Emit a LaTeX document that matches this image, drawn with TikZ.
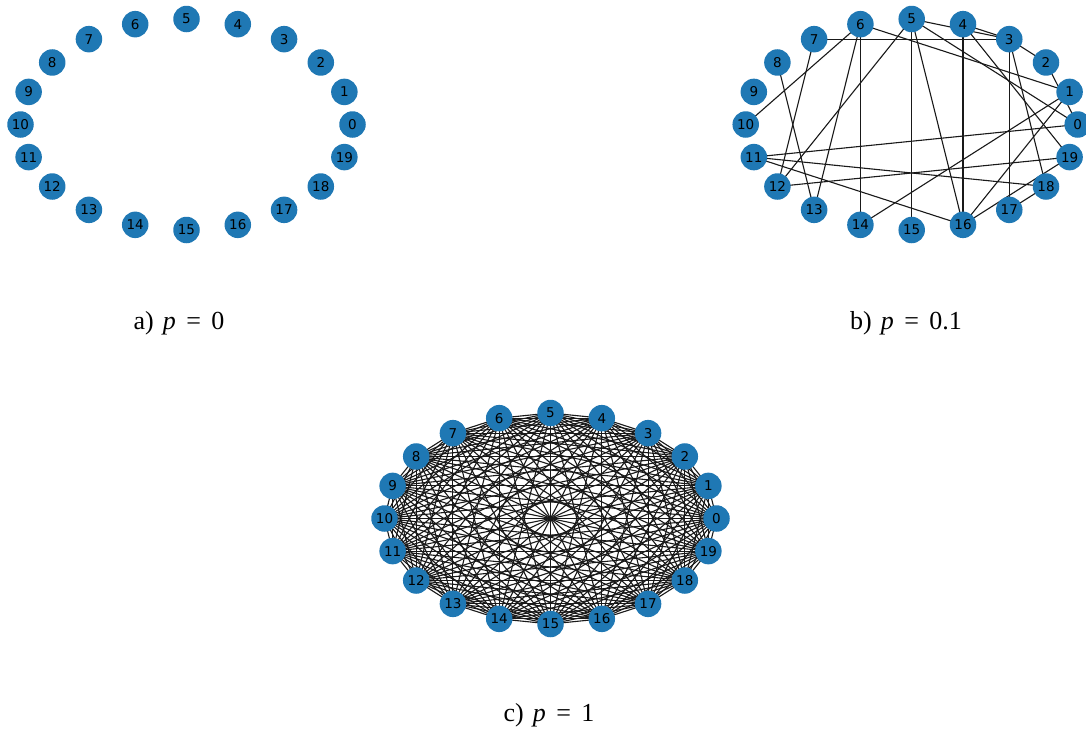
\documentclass[tikz,border=0pt]{standalone}
\usepackage{fontspec}
\setmainfont{Liberation Serif}
\newfontfamily\labelfont{DejaVu Sans}
\definecolor{nxblue}{HTML}{1F78B4}
\pgfdeclarelayer{edges}
\pgfsetlayers{edges,main}

\begin{document}
\begin{tikzpicture}[x=1pt, y=-1pt,
	vertex/.style={circle, fill=nxblue, inner sep=0pt, minimum size=26.5pt, font=\labelfont\fontsize{13.5}{15}\selectfont},
	edge/.style={black!90, line width=1.1pt},
	caption/.style={anchor=base, font=\fontsize{26}{30}\selectfont}]
	\useasboundingbox (0,0) rectangle (1086,731);
	% the three rings of 20 nodes
	\foreach \g/\cx/\cy in {a/186.5/124.5, b/911.7/124.5, c/550.5/518.5} {
		\foreach \i in {0,...,19}
			\node[vertex] (\g\i) at ({\cx+166*cos(18*\i)}, {\cy-105.5*sin(18*\i)}) {\i};
	}
	\begin{pgfonlayer}{edges}
		% p = 0.1
		\foreach \u/\v in {7/3, 6/1, 6/10, 6/13, 6/14, 7/12, 8/13, 5/12, 5/15, 5/16, 5/3, 4/3, 4/16, 4/19, 3/2, 3/17, 3/18, 2/0, 1/14, 1/16, 0/11, 11/18, 11/16, 19/12, 19/16, 18/17, 5/0}
			\draw[edge] (b\u.center) -- (b\v.center);
		% p = 1
		\foreach \u in {0,...,18} {
			\pgfmathtruncatemacro\w{\u+1}
			\foreach \v in {\w,...,19}
				\draw[edge] (c\u.center) -- (c\v.center);
		}
	\end{pgfonlayer}
	\node[caption] (capa) at (179,329) {a)\hspace{.35em}\textit{p}\hspace{.4em}=\hspace{.4em}0};
	\node[caption] (capb) at (906,329) {b)\hspace{.35em}\textit{p}\hspace{.4em}=\hspace{.4em}0.1};
	\node[caption] (capc) at (549,721) {c)\hspace{.35em}\textit{p}\hspace{.4em}=\hspace{.4em}1};
\end{tikzpicture}
\end{document}
